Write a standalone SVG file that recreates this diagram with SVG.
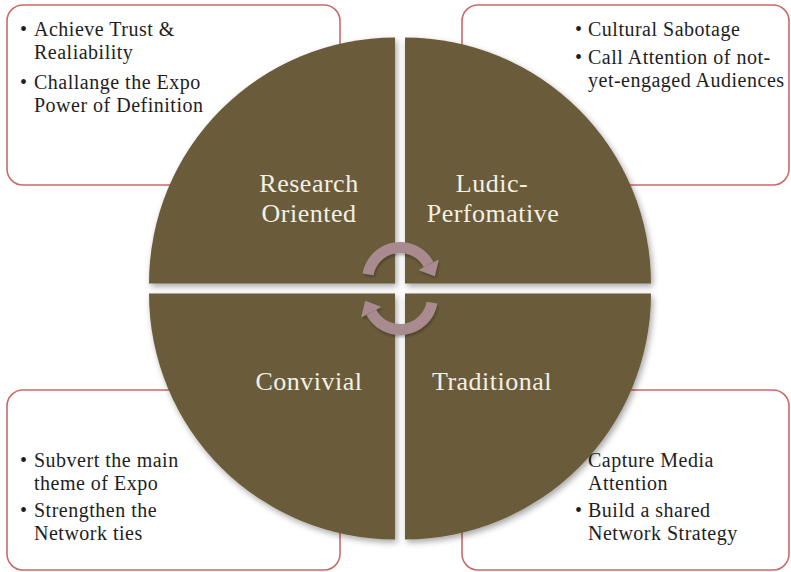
<svg xmlns="http://www.w3.org/2000/svg" width="791" height="572" viewBox="0 0 791 572">
  <style>
    .box { fill: #ffffff; stroke: #c96a6a; stroke-width: 1.6; }
    .btxt { font-family: "Liberation Serif", "Times New Roman", serif; font-size: 20px; letter-spacing: 0.5px; fill: #1e1e1e; }
    .quad { fill: #6b5b3a; filter: url(#shadow); }
    .lbl { font-family: "Liberation Serif", "Times New Roman", serif; font-size: 26px; letter-spacing: 0.5px; fill: #f3f0e6; text-anchor: middle; }
    .arc { fill: none; stroke: #a98b8f; stroke-width: 11; }
    .head { fill: #a98b8f; }
  </style>
  <defs>
    <filter id="shadow" x="-10%" y="-10%" width="125%" height="125%">
      <feDropShadow dx="2" dy="3" stdDeviation="3" flood-color="#000" flood-opacity="0.35"/>
    </filter>
    <filter id="ashadow" x="-20%" y="-20%" width="140%" height="140%">
      <feDropShadow dx="1" dy="2" stdDeviation="1.5" flood-color="#000" flood-opacity="0.3"/>
    </filter>
  </defs>
  <rect width="791" height="572" fill="#ffffff"/>

  <g id="box-research">
    <rect class="box" x="7" y="5" width="333" height="180" rx="16"/>
    <text class="btxt"><tspan x="20" y="36">•</tspan><tspan x="34" y="36">Achieve Trust &amp;</tspan><tspan x="34" y="59">Realiability</tspan><tspan x="20" y="89">•</tspan><tspan x="34" y="89">Challange the Expo</tspan><tspan x="34" y="112">Power of Definition</tspan></text>
  </g>
  <g id="box-ludic">
    <rect class="box" x="462" y="5" width="327" height="180" rx="16"/>
    <text class="btxt"><tspan x="575" y="36">•</tspan><tspan x="588" y="36">Cultural Sabotage</tspan><tspan x="575" y="64">•</tspan><tspan x="588" y="64">Call Attention of not-</tspan><tspan x="588" y="87">yet-engaged Audiences</tspan></text>
  </g>
  <g id="box-convivial">
    <rect class="box" x="7" y="390" width="333" height="180" rx="16"/>
    <text class="btxt"><tspan x="20" y="467">•</tspan><tspan x="34" y="467">Subvert the main</tspan><tspan x="34" y="490">theme of Expo</tspan><tspan x="20" y="517">•</tspan><tspan x="34" y="517">Strengthen the</tspan><tspan x="34" y="540">Network ties</tspan></text>
  </g>
  <g id="box-traditional">
    <rect class="box" x="462" y="390" width="327" height="180" rx="16"/>
    <text class="btxt"><tspan x="588" y="467">Capture Media</tspan><tspan x="588" y="490">Attention</tspan><tspan x="575" y="517">•</tspan><tspan x="588" y="517">Build a shared</tspan><tspan x="588" y="540">Network Strategy</tspan></text>
  </g>

  <g id="q-research">
    <path class="quad" d="M395,283.5 L149,283.5 A246,246 0 0 1 395,37.5 Z"/>
    <text class="lbl"><tspan x="309" y="192">Research</tspan><tspan x="309" y="222">Oriented</tspan></text>
  </g>
  <g id="q-ludic">
    <path class="quad" d="M405,283.5 L405,37.5 A246,246 0 0 1 651,283.5 Z"/>
    <text class="lbl"><tspan x="492" y="192">Ludic-</tspan><tspan x="493" y="222">Perfomative</tspan></text>
  </g>
  <g id="q-traditional">
    <path class="quad" d="M405,293.5 L651,293.5 A246,246 0 0 1 405,539.5 Z"/>
    <text class="lbl" x="492" y="390">Traditional</text>
  </g>
  <g id="q-convivial">
    <path class="quad" d="M395,293.5 L395,539.5 A246,246 0 0 1 149,293.5 Z"/>
    <text class="lbl" x="309" y="390">Convivial</text>
  </g>

  <g id="connectors" filter="url(#ashadow)">
    <g id="arrow-top">
      <path class="arc" d="M368,274.4 A32.5,32.5 0 0 1 428.7,264.7"/>
      <polygon class="head" points="418.5,270.1 438.9,259.4 434.8,276.2"/>
    </g>
    <g id="arrow-bottom" transform="rotate(180 400 288.5)">
      <path class="arc" d="M368,274.4 A32.5,32.5 0 0 1 428.7,264.7"/>
      <polygon class="head" points="418.5,270.1 438.9,259.4 434.8,276.2"/>
    </g>
  </g>
</svg>
